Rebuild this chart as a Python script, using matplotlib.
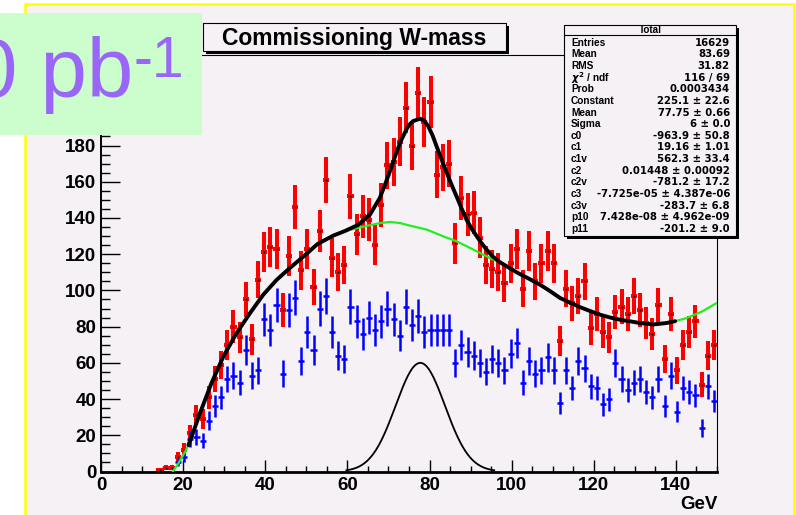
import numpy as np
import matplotlib
matplotlib.use("Agg")
import matplotlib.pyplot as plt
from matplotlib.patches import Rectangle
from matplotlib.ticker import MultipleLocator

# ---- histogram definition: 100 bins of 1.5 GeV from 0 to 150 ----
bin_width = 1.5
n_bins = 100
first_bin = 9  # bins below this one are empty

# total sample (red points), bins 9..99
total_counts = [1, 2, 2, 8, 12, 21, 31, 29, 41, 51,
                59, 70, 80, 74, 95, 73, 106, 121, 124, 123,
                89, 119, 146, 111, 123, 102, 133, 161, 118, 110,
                114, 152, 131, 141, 139, 125, 147, 169, 171, 182,
                201, 180, 209, 193, 204, 164, 168, 170, 126, 151,
                142, 143, 129, 114, 112, 110, 104, 115, 123, 101,
                122, 105, 115, 122, 115, 72, 101, 93, 97, 105,
                79, 87, 77, 74, 88, 91, 87, 97, 89, 82,
                76, 92, 62, 87, 56, 70, 77, 83, 48, 64,
                70]

# selected sample (blue points), bins 9..99
selected_counts = [0, 0, 0, 5, 8, 18, 19, 17, 28, 36,
                   41, 51, 53, 49, 67, 53, 56, 84, 78, 92,
                   54, 89, 96, 61, 77, 67, 90, 97, 77, 64,
                   62, 91, 83, 76, 85, 78, 83, 90, 84, 75,
                   91, 81, 86, 77, 78, 78, 78, 78, 60, 70,
                   66, 64, 60, 55, 62, 60, 56, 65, 71, 49,
                   61, 54, 56, 63, 56, 38, 56, 46, 61, 57,
                   47, 46, 37, 40, 60, 51, 45, 49, 51, 44,
                   41, 51, 36, 53, 33, 46, 44, 42, 24, 47,
                   39]

# background fit function (green), sampled
bg_x = [17.5, 18.5, 19.5, 20.5, 21.3, 22.5, 24.1, 26.9, 29.8, 33.0,
        36.3, 39.5, 42.8, 46.0, 49.7, 52.7, 56.6, 59.0, 62.5, 65.5,
        68.0, 70.4, 72.8, 75.2, 79.3, 83.3, 86.6, 90.7, 93.9, 95.5,
        97.2, 101.2, 105.0, 107.0, 108.9, 111.8, 116.6, 119.0, 121.5, 124.0,
        126.4, 128.9, 131.2, 134.5, 137.7, 139.8, 142.6, 146.3, 149.9]
bg_y = [0.0, 3.3, 7.0, 11.0, 14.6, 22.0, 32.2, 48.8, 63.5, 76.4,
        87.5, 97.6, 105.9, 112.4, 119.5, 125.6, 130.3, 132.6, 134.5, 136.0,
        137.2, 137.8, 137.2, 135.8, 133.6, 129.9, 127.1, 122.5, 118.8, 117.0,
        115.5, 110.0, 105.5, 103.0, 100.3, 95.8, 90.8, 88.7, 86.6, 85.0,
        83.8, 82.9, 82.0, 81.2, 82.0, 83.0, 84.7, 88.3, 93.0]

# full fit (black, background + signal), sampled
fit_x = [21.3, 22.5, 24.1, 26.9, 29.8, 33.0, 36.3, 39.5, 42.8, 46.0,
         49.7, 52.7, 56.6, 59.4, 62.7, 65.5, 67.9, 69.0, 70.0, 71.0,
         72.0, 73.0, 74.4, 75.0, 76.0, 77.7, 78.7, 79.7, 80.7, 81.7,
         82.9, 84.2, 85.4, 86.6, 87.8, 89.0, 90.2, 91.5, 92.7, 93.9,
         95.5, 97.2, 101.2, 105.0, 107.0, 108.9, 111.8, 116.6, 119.0, 121.5,
         124.0, 126.4, 128.9, 131.2, 134.5, 137.7, 139.8]
fit_y = [14.6, 22.0, 32.2, 48.8, 63.5, 76.4, 87.5, 97.6, 105.9, 112.4,
         119.5, 125.6, 130.3, 132.8, 136.3, 141.9, 151.1, 157.5, 163.5, 170.0,
         176.5, 182.5, 189.0, 191.3, 193.5, 194.8, 193.8, 190.6, 185.8, 179.7,
         172.5, 164.9, 158.2, 151.8, 145.3, 139.1, 134.3, 129.9, 126.0, 122.5,
         118.5, 115.5, 110.0, 105.5, 103.0, 100.3, 95.8, 90.8, 88.7, 86.6,
         85.0, 83.8, 82.9, 82.0, 81.2, 82.0, 83.0]

# signal gaussian
sig_mean = 77.75
sig_sigma = 6.0
sig_height = 60.0

# statistics box
stats_title = "Total"
stats_labels = ["Entries", "Mean", "RMS", r"$\chi^{2}$ / ndf", "Prob", "Constant",
                "Mean", "Sigma", "c0", "c1", "c1v", "c2", "c2v", "c3", "c3v",
                "p10", "p11"]
stats_values = ["16629", "83.69", "31.82", "116 / 69", "0.0003434",
                "225.1 \u00b1 22.6", f"{sig_mean:.2f} \u00b1 0.66", f"{sig_sigma:g} \u00b1 0.0",
                "-963.9 \u00b1 50.8", "19.16 \u00b1 1.01", "562.3 \u00b1 33.4",
                "0.01448 \u00b1 0.00092", "-781.2 \u00b1 17.2",
                "-7.725e-05 \u00b1 4.387e-06", "-283.7 \u00b1 6.8",
                "7.428e-08 \u00b1 4.962e-09", "-201.2 \u00b1 9.0"]

title_text = "Commissioning W-mass"
x_title = "GeV"
lumi_main = "0 pb"
lumi_exp = "-1"

x_ticks = [0, 20, 40, 60, 80, 100, 120, 140]
y_ticks = [0, 20, 40, 60, 80, 100, 120, 140, 160, 180]

# ---- style ----
BG = "#f5f1f5"
RED = "#ff0000"
BLUE = "#0000ff"
GREEN = "#22ee22"
PURPLE = "#9966f8"
LUMI_BOX = "#ccfdcc"
plt.rcParams["font.family"] = ["Liberation Sans", "DejaVu Sans"]
plt.rcParams["font.weight"] = "bold"

W, H = 796, 515
fig = plt.figure(figsize=(W / 100, H / 100), dpi=100)
fig.patch.set_facecolor("white")


def fx(px):
    return px / W


def fy(py):
    return 1 - py / H


def frect(x0, y0, x1, y1, **kw):
    r = Rectangle((fx(x0), fy(y1)), fx(x1) - fx(x0), fy(y0) - fy(y1),
                  transform=fig.transFigure, **kw)
    fig.add_artist(r)
    return r


# canvas pad with yellow border
frect(25, 4, 794, 530, facecolor=BG, edgecolor="#ffff00", lw=1.8, zorder=-10)

ax = fig.add_axes([fx(101), fy(471.5), fx(717) - fx(101), fy(55) - fy(471.5)])
ax.set_facecolor(BG)
ax.set_xlim(0, 150)
ax.set_ylim(0, 230)

centers = (np.arange(n_bins) + 0.5) * bin_width
tot = np.zeros(n_bins)
sel = np.zeros(n_bins)
tot[first_bin:first_bin + len(total_counts)] = total_counts
sel[first_bin:first_bin + len(selected_counts)] = selected_counts

m = tot > 0
ax.errorbar(centers[m], tot[m], yerr=np.sqrt(tot[m]), xerr=bin_width / 2,
            fmt="none", ecolor=RED, elinewidth=2.9, capsize=0, zorder=2)
ax.plot(centers[m], tot[m], "s", color="black", ms=1.2, mew=0, zorder=2.5)

m = sel > 0
ax.errorbar(centers[m], sel[m], yerr=np.sqrt(sel[m]), xerr=bin_width / 2,
            fmt="none", ecolor=BLUE, elinewidth=1.8, capsize=0, zorder=3)

ax.plot(bg_x, bg_y, color=GREEN, lw=1.6, zorder=4, solid_capstyle="round")
ax.plot(fit_x, fit_y, color="black", lw=2.8, zorder=5, solid_capstyle="round")

gx = np.linspace(sig_mean - 3 * sig_sigma, sig_mean + 3 * sig_sigma, 200)
gy = sig_height * np.exp(-0.5 * ((gx - sig_mean) / sig_sigma) ** 2)
ax.plot(gx, gy, color="black", lw=1.3, zorder=5)

# axes styling
for side in ("top", "right"):
    ax.spines[side].set_linewidth(0.8)
ax.spines["left"].set_linewidth(1.4)
ax.spines["bottom"].set_linewidth(2.0)
ax.set_xticks(x_ticks)
ax.set_yticks(y_ticks)
ax.xaxis.set_minor_locator(MultipleLocator(5))
ax.yaxis.set_minor_locator(MultipleLocator(5))
ax.tick_params(axis="x", which="major", direction="in", length=9.0, width=1.0,
               top=False, pad=4, labelsize=13.5)
ax.tick_params(axis="x", which="minor", direction="in", length=4.5, width=1.0, top=False)
ax.tick_params(axis="y", which="major", direction="in", length=13.5, width=1.0,
               right=False, pad=3.5, labelsize=13.5)
ax.tick_params(axis="y", which="minor", direction="in", length=6.5, width=1.0, right=False)
for lab in ax.get_xticklabels() + ax.get_yticklabels():
    lab.set_fontweight("bold")

fig.text(fx(718), fy(496), x_title, ha="right", va="top", fontsize=13.5,
         fontweight="bold", zorder=20)

# title box with shadow
frect(206, 26, 509, 54, facecolor="black", edgecolor="none", zorder=10)
frect(203, 23, 506, 51, facecolor=BG, edgecolor="black", lw=0.8, zorder=11)
fig.text(fx(354), fy(38), title_text, ha="center", va="center", fontsize=16.5,
         fontweight="bold", zorder=12)

# statistics box with shadow
frect(567, 28, 739, 239, facecolor="black", edgecolor="none", zorder=10)
frect(564, 25, 736, 236, facecolor=BG, edgecolor="black", lw=0.8, zorder=11)
fig.add_artist(plt.Line2D([fx(564), fx(736)], [fy(35), fy(35)], transform=fig.transFigure,
                          color="black", lw=0.8, zorder=12))
fig.text(fx(650), fy(30), stats_title, ha="center", va="center", fontsize=7.1,
         fontweight="bold", zorder=12)
for i, (lab, val) in enumerate(zip(stats_labels, stats_values)):
    yy = fy(42.7 + 11.64 * i)
    fig.text(fx(571), yy, lab, ha="left", va="center", fontsize=7.3,
             fontweight="bold", zorder=12)
    fig.text(fx(730), yy, val, ha="right", va="center", fontsize=7.3,
             fontweight="bold", family=["DejaVu Sans"], zorder=12)

# luminosity label
frect(0, 13, 202, 135, facecolor=LUMI_BOX, edgecolor="none", zorder=15)
fig.text(fx(-29), fy(97), lumi_main, ha="left", va="baseline", fontsize=60,
         fontweight="normal", color=PURPLE, zorder=16)
fig.text(fx(134), fy(77), lumi_exp, ha="left", va="baseline", fontsize=41,
         fontweight="normal", color=PURPLE, zorder=16)

fig.savefig("out.png", dpi=100, facecolor=fig.get_facecolor())
